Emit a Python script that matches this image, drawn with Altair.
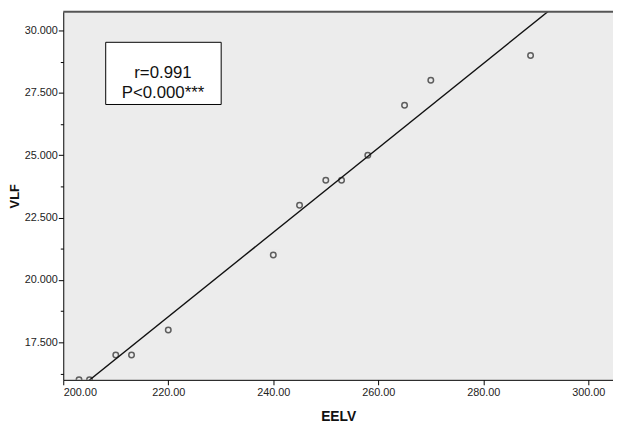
import altair as alt
import pandas as pd

# ---- data ----
eelv = [203, 205, 210, 213, 220, 240, 245, 250, 253, 258, 265, 270, 289]
vlf = [16, 16, 17, 17, 18, 21, 23, 24, 24, 25, 27, 28, 29]
x_ticks = [200, 220, 240, 260, 280, 300]
y_ticks = [16.25, 17.5, 18.75, 20, 21.25, 22.5, 23.75, 25, 26.25, 27.5, 28.75, 30]
annot_lines = ["r=0.991", "P<0.000***"]
x_domain = [200, 304.7]
y_domain = [16, 30.75]

df = pd.DataFrame({"EELV": eelv, "VLF": vlf})
one = pd.DataFrame({"k": [0]})

W, H = 557, 373
FONT = "Liberation Sans"

xs = alt.Scale(domain=x_domain, nice=False, zero=False)
ys = alt.Scale(domain=y_domain, nice=False, zero=False)

x_axis = alt.Axis(values=x_ticks, format=".2f", title="EELV",
                  titleY=37, titleBaseline="middle", titleFontSize=14)
y_axis = alt.Axis(values=y_ticks,
                  labelExpr="datum.value % 2.5 == 0 ? format(datum.value, '.3f') : ''",
                  tickSize={"condition": {"test": "datum.value % 2.5 != 0", "value": 3}, "value": 5},
                  title="VLF", titleX=-49, titleY=H / 2, titleAngle=270,
                  titleBaseline="middle", titleAlign="center", titleFontSize=13)

base = alt.Chart(df).encode(
    x=alt.X("EELV:Q", scale=xs, axis=x_axis),
    y=alt.Y("VLF:Q", scale=ys, axis=y_axis),
)

points = base.mark_point(shape="circle", filled=False, size=31, color="#222",
                         strokeWidth=1.5, clip=True)

fit = alt.Chart(df).transform_regression(
    "EELV", "VLF", extent=x_domain
).mark_line(color="#111", strokeWidth=1.4, clip=True).encode(
    x=alt.X("EELV:Q", scale=xs, axis=x_axis),
    y=alt.Y("VLF:Q", scale=ys, axis=y_axis),
)

top_border = alt.Chart(one).mark_rule(color="#555", strokeWidth=2).encode(
    x=alt.value(0), x2=alt.value(W), y=alt.value(0)
)

box = alt.Chart(one).mark_rect(fill="white", stroke="black", strokeWidth=1).encode(
    x=alt.value(43), x2=alt.value(160), y=alt.value(31), y2=alt.value(94)
)

label = alt.Chart(one).mark_text(
    text=annot_lines, font=FONT, fontSize=17, color="#111",
    lineHeight=20.5, align="center", baseline="middle"
).encode(x=alt.value(101), y=alt.value(62))

chart = alt.layer(points, fit, top_border, box, label).properties(
    width=W, height=H,
    autosize=alt.AutoSizeParams(type="none"),
    padding={"left": 56, "top": 1, "right": 0, "bottom": 44},
    background="white",
).configure_view(
    fill="#ececec", stroke="transparent"
).configure_axis(
    grid=False, domainColor="#000", domainWidth=1, tickColor="#000",
    tickWidth=1, labelFont=FONT, labelFontSize=11, labelColor="#222",
    labelPadding=1, titleFont=FONT, titleFontWeight="bold",
    titleColor="#111"
).configure_axisX(labelPadding=2)

chart.save("out.html", embed_options={"renderer": "svg", "actions": False})
